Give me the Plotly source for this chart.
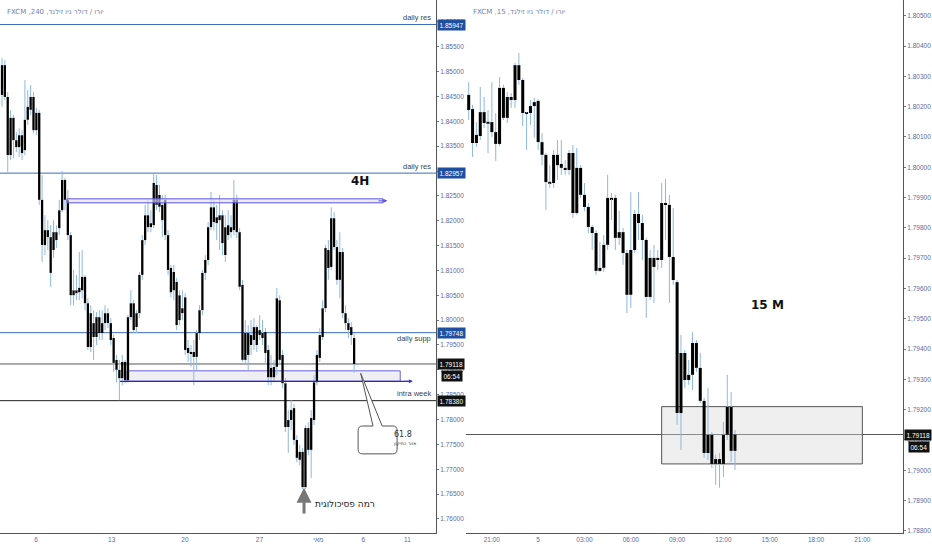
import pandas as pd
import plotly.graph_objects as go

# ---- 4H chart (EUR/NZD, FXCM) ----
h4_open = [1.8453, 1.8513, 1.8449, 1.8332, 1.8407, 1.8362, 1.8348, 1.8372, 1.8342, 1.8403,
           1.8423, 1.8449, 1.8382, 1.8417, 1.8242, 1.8151, 1.8181, 1.8167, 1.8141, 1.8177,
           1.8185, 1.8221, 1.8282, 1.8242, 1.8171, 1.8060, 1.8060, 1.8065, 1.8060, 1.8087,
           1.8034, 1.7946, 1.7994, 1.7966, 1.8006, 1.7974, 1.7994, 1.8014, 1.7994, 1.7964,
           1.7920, 1.7900, 1.7883, 1.7916, 1.7879, 1.8006, 1.8034, 1.7986, 1.8014, 1.8091,
           1.8161, 1.8211, 1.8187, 1.8191, 1.8272, 1.8252, 1.8232, 1.8242, 1.8171, 1.8105,
           1.8060, 1.8077, 1.8000, 1.8024, 1.8046, 1.7944, 1.7936, 1.7936, 1.7926, 1.7974,
           1.8020, 1.8095, 1.8121, 1.8187, 1.8227, 1.8207, 1.8201, 1.8211, 1.8187, 1.8171,
           1.8187, 1.8181, 1.8242, 1.8177, 1.8071, 1.7920, 1.7974, 1.7950, 1.7960, 1.7986,
           1.7980, 1.7974, 1.7976, 1.7940, 1.7904, 1.7906, 1.7906, 1.8040, 1.7930, 1.7873,
           1.7799, 1.7799, 1.7823, 1.7759, 1.7735, 1.7735, 1.7664, 1.7783, 1.7739, 1.7799,
           1.7875, 1.7924, 1.7966, 1.8024, 1.8141, 1.8107, 1.8205, 1.8147, 1.8081, 1.8137,
           1.8014, 1.7994, 1.7986, 1.7964]
h4_high = [1.8527, 1.8523, 1.8459, 1.8423, 1.8413, 1.8378, 1.8386, 1.8382, 1.8483, 1.8463,
           1.8473, 1.8459, 1.8427, 1.8423, 1.8292, 1.8211, 1.8201, 1.8191, 1.8201, 1.8191,
           1.8242, 1.8300, 1.8286, 1.8262, 1.8177, 1.8101, 1.8091, 1.8137, 1.8141, 1.8091,
           1.8044, 1.8030, 1.8020, 1.8016, 1.8020, 1.8020, 1.8030, 1.8024, 1.8004, 1.7970,
           1.7930, 1.7920, 1.7930, 1.7920, 1.8010, 1.8060, 1.8040, 1.8020, 1.8097, 1.8171,
           1.8232, 1.8242, 1.8221, 1.8294, 1.8292, 1.8272, 1.8252, 1.8252, 1.8181, 1.8111,
           1.8111, 1.8085, 1.8060, 1.8060, 1.8054, 1.7960, 1.7950, 1.7960, 1.7980, 1.8030,
           1.8101, 1.8131, 1.8197, 1.8258, 1.8242, 1.8232, 1.8252, 1.8221, 1.8211, 1.8221,
           1.8211, 1.8282, 1.8252, 1.8185, 1.8081, 1.8000, 1.7990, 1.8000, 1.8004, 1.7990,
           1.8010, 1.8000, 1.7984, 1.7950, 1.7930, 1.7920, 1.8065, 1.8050, 1.7940, 1.7883,
           1.7819, 1.7839, 1.7831, 1.7769, 1.7749, 1.7743, 1.7789, 1.7795, 1.7819, 1.7889,
           1.7940, 1.7984, 1.8040, 1.8151, 1.8161, 1.8227, 1.8217, 1.8161, 1.8177, 1.8145,
           1.8030, 1.8004, 1.7996, 1.7974]
h4_low = [1.8429, 1.8443, 1.8298, 1.8322, 1.8326, 1.8338, 1.8328, 1.8322, 1.8332, 1.8393,
          1.8413, 1.8376, 1.8372, 1.8232, 1.8117, 1.8131, 1.8141, 1.8067, 1.8125, 1.8145,
          1.8171, 1.8217, 1.8221, 1.8161, 1.8030, 1.8030, 1.8040, 1.8040, 1.8044, 1.8020,
          1.7940, 1.7936, 1.7920, 1.7950, 1.7960, 1.7960, 1.7980, 1.7984, 1.7950, 1.7896,
          1.7875, 1.7839, 1.7869, 1.7873, 1.7875, 1.8000, 1.7974, 1.7974, 1.8004, 1.8081,
          1.8151, 1.8177, 1.8177, 1.8185, 1.8221, 1.8217, 1.8167, 1.8161, 1.8091, 1.8046,
          1.8040, 1.7980, 1.7990, 1.8000, 1.7930, 1.7916, 1.7906, 1.7869, 1.7900, 1.7960,
          1.8010, 1.8081, 1.8111, 1.8181, 1.8181, 1.8161, 1.8141, 1.8131, 1.8117, 1.8161,
          1.8165, 1.8171, 1.8165, 1.8060, 1.7916, 1.7910, 1.7900, 1.7930, 1.7940, 1.7936,
          1.7960, 1.7950, 1.7910, 1.7869, 1.7869, 1.7875, 1.7889, 1.7910, 1.7863, 1.7775,
          1.7733, 1.7779, 1.7749, 1.7714, 1.7708, 1.7660, 1.7660, 1.7729, 1.7682, 1.7789,
          1.7869, 1.7916, 1.7960, 1.8016, 1.8081, 1.8101, 1.8141, 1.8071, 1.8044, 1.8004,
          1.7980, 1.7964, 1.7950, 1.7894]
h4_close = [1.8513, 1.8449, 1.8332, 1.8407, 1.8362, 1.8348, 1.8372, 1.8336, 1.8403, 1.8429,
            1.8449, 1.8382, 1.8417, 1.8242, 1.8151, 1.8181, 1.8167, 1.8095, 1.8177, 1.8161,
            1.8221, 1.8282, 1.8242, 1.8171, 1.8050, 1.8050, 1.8054, 1.8056, 1.8087, 1.8034,
            1.7946, 1.8014, 1.7966, 1.8006, 1.7974, 1.7994, 1.8014, 1.7994, 1.7960, 1.7914,
            1.7900, 1.7883, 1.7916, 1.7879, 1.8006, 1.8034, 1.7980, 1.8014, 1.8091, 1.8161,
            1.8211, 1.8187, 1.8195, 1.8276, 1.8232, 1.8228, 1.8201, 1.8171, 1.8101, 1.8056,
            1.8097, 1.7990, 1.8050, 1.8014, 1.7940, 1.7934, 1.7932, 1.7926, 1.7974, 1.8020,
            1.8095, 1.8121, 1.8187, 1.8227, 1.8197, 1.8195, 1.8211, 1.8155, 1.8131, 1.8191,
            1.8177, 1.8242, 1.8177, 1.8067, 1.7920, 1.7974, 1.7930, 1.7970, 1.7986, 1.7950,
            1.7970, 1.7964, 1.7934, 1.7885, 1.7885, 1.7885, 1.8044, 1.7920, 1.7873, 1.7785,
            1.7785, 1.7819, 1.7759, 1.7723, 1.7719, 1.7664, 1.7783, 1.7739, 1.7803, 1.7875,
            1.7930, 1.7970, 1.8024, 1.8145, 1.8105, 1.8205, 1.8147, 1.8081, 1.8137, 1.8014,
            1.7994, 1.7980, 1.7970, 1.79118]
h4_tick_pos = [11.9, 38.3, 63.9, 89.9, 110.5, 126.2, 141.6]
h4_tick_text = ["6", "13", "20", "27", "מאי", "6", "11"]

# ---- 15M chart ----
m15_start = "2020-05-04 19:30"
m15_open = [1.80189, 1.80192, 1.80080, 1.80103, 1.80182, 1.80149, 1.80149, 1.80116, 1.80077, 1.80262,
            1.80163, 1.80232, 1.80222, 1.80337, 1.80288, 1.80179, 1.80179, 1.80202, 1.80219, 1.80083,
            1.80041, 1.79951, 1.79948, 1.80041, 1.80011, 1.79998, 1.79991, 1.80047, 1.79849, 1.79998,
            1.79909, 1.79869, 1.79803, 1.79783, 1.79658, 1.79668, 1.79744, 1.79899, 1.79899, 1.79767,
            1.79786, 1.79717, 1.79579, 1.79727, 1.79846, 1.79816, 1.79760, 1.79572, 1.79701, 1.79701,
            1.79694, 1.79882, 1.79876, 1.79704, 1.79621, 1.79189, 1.79387, 1.79298, 1.79315, 1.79420,
            1.79338, 1.79229, 1.79057, 1.79117, 1.79021, 1.79037, 1.79021, 1.79117, 1.79209, 1.79064]
m15_high = [1.80281, 1.80206, 1.80149, 1.80265, 1.80232, 1.80189, 1.80281, 1.80179, 1.80298, 1.80272,
            1.80248, 1.80245, 1.80344, 1.80377, 1.80295, 1.80182, 1.80222, 1.80229, 1.80225, 1.80113,
            1.80047, 1.80007, 1.80057, 1.80090, 1.80090, 1.80024, 1.80057, 1.80073, 1.80064, 1.80007,
            1.79948, 1.79882, 1.79810, 1.79793, 1.79753, 1.79777, 1.79975, 1.79915, 1.79909, 1.79856,
            1.79800, 1.79727, 1.79918, 1.79859, 1.79918, 1.79843, 1.79767, 1.79727, 1.79744, 1.79727,
            1.79948, 1.79961, 1.79909, 1.79866, 1.79628, 1.79447, 1.79397, 1.79364, 1.79456, 1.79430,
            1.79387, 1.79239, 1.79272, 1.79126, 1.79051, 1.79057, 1.79159, 1.79315, 1.79258, 1.79133]
m15_low = [1.80156, 1.80034, 1.80067, 1.80090, 1.80130, 1.80047, 1.80100, 1.80021, 1.80070, 1.80156,
           1.80146, 1.80196, 1.80196, 1.80272, 1.80136, 1.80057, 1.80140, 1.80097, 1.80057, 1.80007,
           1.79859, 1.79932, 1.79932, 1.79958, 1.79975, 1.79975, 1.79975, 1.79833, 1.79843, 1.79899,
           1.79856, 1.79783, 1.79727, 1.79645, 1.79654, 1.79654, 1.79727, 1.79826, 1.79727, 1.79744,
           1.79678, 1.79519, 1.79536, 1.79717, 1.79760, 1.79694, 1.79503, 1.79562, 1.79552, 1.79661,
           1.79668, 1.79760, 1.79552, 1.79612, 1.79150, 1.79067, 1.79272, 1.79282, 1.79265, 1.79324,
           1.79222, 1.79041, 1.79034, 1.79008, 1.78952, 1.78942, 1.78978, 1.79100, 1.79027, 1.79001]
m15_close = [1.80239, 1.80080, 1.80107, 1.80182, 1.80146, 1.80146, 1.80116, 1.80077, 1.80262, 1.80163,
             1.80232, 1.80222, 1.80337, 1.80288, 1.80179, 1.80176, 1.80202, 1.80215, 1.80083, 1.80041,
             1.79951, 1.79948, 1.80041, 1.80007, 1.79998, 1.79991, 1.80047, 1.79849, 1.79998, 1.79909,
             1.79869, 1.79803, 1.79783, 1.79658, 1.79668, 1.79744, 1.79899, 1.79895, 1.79767, 1.79786,
             1.79717, 1.79579, 1.79727, 1.79846, 1.79816, 1.79760, 1.79572, 1.79701, 1.79671, 1.79694,
             1.79882, 1.79876, 1.79704, 1.79628, 1.79189, 1.79387, 1.79298, 1.79315, 1.79420, 1.79338,
             1.79229, 1.79057, 1.79117, 1.79021, 1.79037, 1.79021, 1.79117, 1.79209, 1.79064, 1.79118]
m15_tick_pos = ["2020-05-04 21:00", "2020-05-05 00:00", "2020-05-05 03:00", "2020-05-05 06:00",
                "2020-05-05 09:00", "2020-05-05 12:00", "2020-05-05 15:00", "2020-05-05 18:00",
                "2020-05-05 21:00"]
m15_tick_text = ["21:00", "5", "03:00", "06:00", "09:00", "12:00", "15:00", "18:00", "21:00"]

# levels drawn on the charts
daily_res_top = 1.85947
daily_res = 1.82957
daily_supp = 1.79748
last_price = 1.79118
intra_week = 1.78380
channel = (22.7, 133.1, 1.8236, 1.8244)
zone = (43.7, 139.1, 1.7877, 1.7898)
box15 = ("2020-05-05 08:00", "2020-05-05 21:00", 1.79021, 1.79210)

WICK = "#8fb8e0"
BODY = "#000000"
BLUE = "#3d6cbf"
TAGBLUE = "#1f4f9f"
TXT = "#5b6ba0"
FONT = "Liberation Sans"


def wick_xy(xs, op, cl, hi, lo):
    # upper and lower shadows only, so they never paint over the body
    wx, wy = [], []
    for x, o, c, h, l in zip(xs, op, cl, hi, lo):
        top, bot = max(o, c), min(o, c)
        wx += [x, x, None, x, x, None]
        wy += [top, h, None, l, bot, None]
    return wx, wy


def body_parts(op, cl, minh):
    base = [min(o, c) for o, c in zip(op, cl)]
    size = [max(abs(c - o), minh) for o, c in zip(op, cl)]
    return base, size


fig = go.Figure()

x4 = list(range(len(h4_open)))
b, s = body_parts(h4_open, h4_close, 0.0002)
fig.add_trace(go.Bar(x=x4, y=s, base=b, width=0.8, marker=dict(color=BODY, line=dict(width=0)),
                     xaxis="x", yaxis="y", hoverinfo="skip"))
wx, wy = wick_xy(x4, h4_open, h4_close, h4_high, h4_low)
fig.add_trace(go.Scatter(x=wx, y=wy, mode="lines", line=dict(color=WICK, width=1),
                         xaxis="x", yaxis="y", hoverinfo="skip"))

t15 = pd.date_range(m15_start, periods=len(m15_open), freq="15min")
b, s = body_parts(m15_open, m15_close, 0.00004)
fig.add_trace(go.Bar(x=t15, y=s, base=b, width=15 * 60 * 1000 * 0.78,
                     marker=dict(color=BODY, line=dict(width=0)),
                     xaxis="x2", yaxis="y2", hoverinfo="skip"))
wx, wy = wick_xy(list(t15), m15_open, m15_close, m15_high, m15_low)
fig.add_trace(go.Scatter(x=wx, y=wy, mode="lines", line=dict(color=WICK, width=1),
                         xaxis="x2", yaxis="y2", hoverinfo="skip"))

shapes = []
# horizontal levels, left
for lv, col in [(daily_res_top, BLUE), (daily_res, BLUE), (daily_supp, BLUE),
                (last_price, "#555555"), (intra_week, "#222222")]:
    shapes.append(dict(type="line", xref="x domain", yref="y", x0=0, x1=1, y0=lv, y1=lv,
                       line=dict(color=col, width=1), layer="below"))
# channel near the top
shapes.append(dict(type="rect", xref="x", yref="y", x0=channel[0], x1=channel[1],
                   y0=channel[2], y1=channel[3], line=dict(color="#5a52d6", width=1),
                   fillcolor="rgba(225,222,250,0.6)"))
# lower zone
shapes.append(dict(type="rect", xref="x", yref="y", x0=zone[0], x1=zone[1],
                   y0=zone[2], y1=zone[3], line=dict(color="#6a62dc", width=1),
                   fillcolor="rgba(235,235,240,0.8)", layer="below"))
shapes.append(dict(type="line", xref="x", yref="y", x0=41.2, x1=142.0, y0=zone[2], y1=zone[2],
                   line=dict(color="#2a22c8", width=1.3)))
# callout with pointer
x0, x1, yb, yt = 124.4, 138.0, 1.7731, 1.7787
rx, ry = 1.5, 0.0009
path = (f"M {x0+rx},{yt} L 129.6,{yt} L 125.3,1.7893 L 132.8,{yt} L {x1-rx},{yt} "
        f"Q {x1},{yt} {x1},{yt-ry} L {x1},{yb+ry} Q {x1},{yb} {x1-rx},{yb} "
        f"L {x0+rx},{yb} Q {x0},{yb} {x0},{yb+ry} L {x0},{yt-ry} Q {x0},{yt} {x0+rx},{yt} Z")
shapes.append(dict(type="path", xref="x", yref="y", path=path,
                   line=dict(color="#555555", width=1), fillcolor="white"))
# right chart level and box
shapes.append(dict(type="line", xref="x2 domain", yref="y2", x0=0, x1=1, y0=last_price, y1=last_price,
                   line=dict(color="#555555", width=1), layer="below"))
shapes.append(dict(type="rect", xref="x2", yref="y2", x0=box15[0], x1=box15[1],
                   y0=box15[2], y1=box15[3], line=dict(color="#555555", width=1),
                   fillcolor="rgba(215,215,215,0.4)", layer="below"))

ann = []
ann.append(dict(xref="paper", yref="paper", x=5 / 932, y=1 - 12 / 550, xanchor="left", yanchor="middle",
                text="FXCM ,240 ,יורו / דולר ניו זילנד", showarrow=False,
                font=dict(family="DejaVu Sans", size=7, color="#7080b0")))
ann.append(dict(xref="paper", yref="paper", x=471 / 932, y=1 - 12 / 550, xanchor="left", yanchor="middle",
                text="FXCM ,15 ,יורו / דולר ניו זילנד", showarrow=False,
                font=dict(family="DejaVu Sans", size=7, color="#7080b0")))

# line labels
for lv, txt, shift in [(daily_res_top, "daily res", 7), (daily_res, "daily res", 7),
                       (daily_supp, "daily supp", -6), (intra_week, "intra week", 7)]:
    ann.append(dict(xref="x domain", yref="y", x=0.993, y=lv, xanchor="right", yanchor="middle",
                    yshift=shift, text=txt, showarrow=False,
                    font=dict(family=FONT, size=7.5, color="#444444")))

# price tags on the scales
def tag(xp, yref, y, txt, bg, yshift=0):
    return dict(xref="paper", yref=yref, x=xp, y=y, xanchor="left", yanchor="middle", yshift=yshift,
                text=txt, showarrow=False, bgcolor=bg, borderpad=1.5,
                font=dict(family=FONT, size=6.5, color="white"))

ann.append(tag(437 / 932, "y", daily_res_top, "1.85947", TAGBLUE))
ann.append(tag(437 / 932, "y", daily_res, "1.82957", TAGBLUE))
ann.append(tag(437 / 932, "y", daily_supp, "1.79748", TAGBLUE))
ann.append(tag(437 / 932, "y", last_price, "1.79118", "#111111"))
ann.append(tag(441 / 932, "y", last_price, "06:54", "#111111", -12))
ann.append(tag(437 / 932, "y", intra_week, "1.78380", "#111111"))
ann.append(tag(904 / 932, "y2", last_price, "1.79118", "#111111"))
ann.append(tag(908 / 932, "y2", last_price, "06:54", "#111111", -12))

# arrows at the channel ends
ann.append(dict(xref="x", yref="y", axref="x", ayref="y", x=134.6, y=sum(channel[2:]) / 2,
                ax=131.0, ay=sum(channel[2:]) / 2, showarrow=True, arrowhead=2, arrowsize=0.8,
                arrowwidth=1, arrowcolor="#5a52d6", text=""))
ann.append(dict(xref="x", yref="y", axref="x", ayref="y", x=143.5, y=zone[2],
                ax=140.0, ay=zone[2], showarrow=True, arrowhead=2, arrowsize=0.8,
                arrowwidth=1, arrowcolor="#3a32d0", text=""))
# psychological level arrow
ann.append(dict(xref="x", yref="y", axref="x", ayref="y", x=105.5, y=1.7663, ax=105.5, ay=1.7608,
                showarrow=True, arrowhead=2, arrowsize=1, arrowwidth=3, arrowcolor="#777777", text=""))
ann.append(dict(xref="x", yref="y", x=108.7, y=1.7630, xanchor="left", yanchor="middle",
                text="רמה פסיכולוגית", showarrow=False,
                font=dict(family="DejaVu Sans", size=9, color="#222222")))
ann.append(dict(xref="x", yref="y", x=125.1, y=1.8280, text="<b>4H</b>", showarrow=False,
                font=dict(family="DejaVu Sans", size=12, color="#111111")))
ann.append(dict(xref="x", yref="y", x=136.3, y=1.7770, xanchor="left", text="61.8", showarrow=False,
                font=dict(family="DejaVu Sans", size=8, color="#333333")))
ann.append(dict(xref="x", yref="y", x=136.3, y=1.7752, xanchor="left", text="אזור התיקון",
                showarrow=False, font=dict(family="DejaVu Sans", size=4.5, color="#333333")))
ann.append(dict(xref="x2", yref="y2", x="2020-05-05 14:50", y=1.79545, text="<b>15 M</b>",
                showarrow=False, font=dict(family="DejaVu Sans", size=12, color="#111111")))

ydom = [1 - 533 / 550, 1]
axis_common = dict(showgrid=False, zeroline=False, showline=True, linecolor="#555555", linewidth=1,
                   tickfont=dict(family=FONT, size=6.5, color=TXT), fixedrange=True)

fig.update_layout(
    width=932, height=550, margin=dict(l=0, r=0, t=0, b=0),
    paper_bgcolor="white", plot_bgcolor="white", showlegend=False, barmode="overlay",
    xaxis=dict(domain=[0, 436 / 932], range=[-0.7, 151.6], tickmode="array",
               tickvals=h4_tick_pos, ticktext=h4_tick_text, ticks="", anchor="y", **axis_common),
    yaxis=dict(domain=ydom, range=[1.75718, 1.8644], side="right", anchor="x", tick0=1.76, dtick=0.005,
               tickformat=".5f", ticks="outside", ticklen=2, tickcolor="#777777", **axis_common),
    xaxis2=dict(domain=[466 / 932, 903 / 932], range=["2020-05-04 19:19:30", "2020-05-05 23:38"],
                type="date", tickmode="array", tickvals=m15_tick_pos, ticktext=m15_tick_text,
                ticks="", anchor="y2", **axis_common),
    yaxis2=dict(domain=ydom, range=[1.78793, 1.80552], side="right", anchor="x2", tick0=1.788,
                dtick=0.001, tickformat=".5f", ticks="outside", ticklen=2, tickcolor="#777777",
                **axis_common),
    shapes=shapes, annotations=ann,
)

# page body has a default margin; drop it so the figure sits at the window's corner
fig.write_html("out.html", config={"displayModeBar": False},
               post_script="document.body.style.margin='0';")
